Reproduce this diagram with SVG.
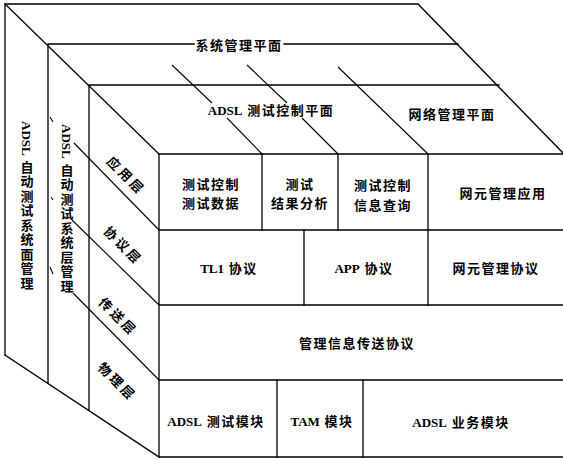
<svg xmlns="http://www.w3.org/2000/svg" width="563" height="460" viewBox="0 0 563 460">
<style>
.ln{stroke:#000;stroke-width:1.3;fill:none;stroke-linecap:square}
.thin{stroke:#000;stroke-width:1.1;fill:none}
.t{font-family:"Liberation Serif","Noto Sans CJK SC",serif;font-weight:bold;font-size:13px;fill:#000;text-anchor:middle;dominant-baseline:central;letter-spacing:1.5px}
.v{writing-mode:vertical-rl;letter-spacing:1.5px}
.r{letter-spacing:3px}
.l{letter-spacing:0}
</style>
<rect width="563" height="460" fill="#fff"/>
<g id="frame" class="ln">
<path d="M5,355 V4 H418 L563,153"/>
<path d="M5,4 L159,154"/>
<path d="M48,383 V44 H194 M284,44 H458"/>
<path d="M89,410 V85 H499"/>
<path d="M5,355 L159,457"/>
<path d="M159,457 V154 H563 M159,230 H563 M159,305 H563 M159,380 H563 M159,457 H563"/>
<path d="M262,154 V230 M338,154 V230 M428,154 V305 M304,230 V305 M277,380 V457 M363,380 V457"/>
</g>
<g id="connectors" class="thin">
<path d="M172,65 L212,103 M227,118 L262,154"/>
<path d="M247,65 L287,103 M302,118 L338,154"/>
<path d="M338,67 L428,154"/>
<path d="M74,143 L159,230"/>
<path d="M72,220 L159,305"/>
<path d="M73,293 L159,380"/>
<path d="M50,117 L53,122 M51,197 L53,200 M50,267 L53,274"/>
</g>
<g id="sys-plane"><text class="t" x="239" y="45">系统管理平面</text></g>
<g id="adsl-plane"><text class="t" x="271" y="110"><tspan class="l">ADSL</tspan> 测试控制平面</text></g>
<g id="net-plane"><text class="t" x="452" y="114">网络管理平面</text></g>
<g id="sys-mgmt"><text class="t v" x="26" y="206"><tspan class="l">ADSL</tspan> 自动测试系统面管理</text></g>
<g id="layer-mgmt"><text class="t v" x="66" y="209"><tspan class="l">ADSL</tspan> 自动测试系统层管理</text></g>
<g id="app-layer"><text class="t r" transform="translate(126,176) rotate(45)">应用层</text></g>
<g id="proto-layer"><text class="t r" transform="translate(123,246) rotate(45)">协议层</text></g>
<g id="trans-layer"><text class="t r" transform="translate(118,317) rotate(45)">传送层</text></g>
<g id="phys-layer"><text class="t r" transform="translate(117,382) rotate(45)">物理层</text></g>
<g id="test-ctrl-data"><text class="t" x="211" y="184">测试控制</text><text class="t" x="211" y="203">测试数据</text></g>
<g id="test-result"><text class="t" x="300" y="184">测试</text><text class="t" x="300" y="203">结果分析</text></g>
<g id="test-info"><text class="t" x="383" y="185">测试控制</text><text class="t" x="383" y="205">信息查询</text></g>
<g id="ne-app"><text class="t" x="503" y="193">网元管理应用</text></g>
<g id="tl1"><text class="t" x="229" y="268"><tspan class="l">TL1</tspan> 协议</text></g>
<g id="app"><text class="t" x="364" y="268"><tspan class="l">APP</tspan> 协议</text></g>
<g id="ne-proto"><text class="t" x="496" y="268">网元管理协议</text></g>
<g id="mgmt-trans"><text class="t" x="357" y="343">管理信息传送协议</text></g>
<g id="adsl-test-mod"><text class="t" x="216" y="421"><tspan class="l">ADSL</tspan> 测试模块</text></g>
<g id="tam-mod"><text class="t" x="322" y="421"><tspan class="l">TAM</tspan> 模块</text></g>
<g id="adsl-svc-mod"><text class="t" x="461" y="422"><tspan class="l">ADSL</tspan> 业务模块</text></g>
</svg>
